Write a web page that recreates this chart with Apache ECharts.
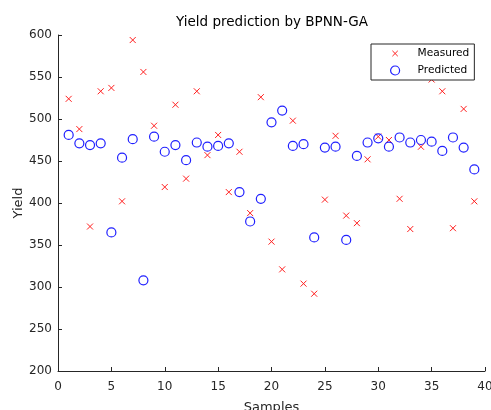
<!DOCTYPE html>
<html>
<head>
<meta charset="utf-8">
<script src="https://cdn.jsdelivr.net/npm/echarts@6/dist/echarts.min.js"></script>
<style>html,body{margin:0;padding:0;background:#fff}#c{width:491px;height:410px}</style>
</head>
<body>
<div id="c"></div>
<script>
const samples = [1,2,3,4,5,6,7,8,9,10,11,12,13,14,15,16,17,18,19,20,21,22,23,24,25,26,27,28,29,30,31,32,33,34,35,36,37,38,39];
const measured = [524,488,372,533,537,402,594,556,492,419,517,429,533,457,481,413,461,388,526,354,321,498,304,292,404,480,385,376,452,479,475,405,369,467,547,533,370,512,402];
const predicted = [481,471,469,471,365,454,476,308,479,461,469,451,472,467,468,471,413,378,405,496,510,468,470,359,466,467,356,456,472,477,467,478,472,475,473,462,478,466,440];
const xTicks = {min:0, max:40, interval:5};
const yTicks = {min:200, max:600, interval:50};

const chart = echarts.init(document.getElementById('c'), null, {renderer:'canvas'});
const axisColor = '#262626';
const font = 'DejaVu Sans, Liberation Sans, Arial, sans-serif';
const redC = '#ff2020', blueC = '#2020ff';
chart.setOption({
  animation:false,
  backgroundColor:'#fff',
  title:{text:'Yield prediction by BPNN-GA', left:272, top:15, textAlign:'center', padding:0,
    textStyle:{fontFamily:font, fontSize:13.5, fontWeight:'normal', color:'#000'}},
  grid:{left:58, right:6, top:35, bottom:39, containLabel:false, outerBoundsMode:'none'},
  legend:{
    orient:'vertical', left:371, top:44,
    backgroundColor:'#fff', borderColor:axisColor, borderWidth:1, borderRadius:0,
    padding:[4,5,4,19], itemGap:6, itemWidth:9, itemHeight:9,
    textStyle:{fontFamily:font, fontSize:10.6, color:'#000', padding:[0,0,0,13]},
    data:[
      {name:'Measured', icon:'path://M0,0M10,10M2,2L8,8M8,2L2,8',
       itemStyle:{color:'transparent', borderColor:redC, borderWidth:1}},
      {name:'Predicted', icon:'circle',
       itemStyle:{color:'transparent', borderColor:blueC, borderWidth:1.2}}
    ]
  },
  xAxis:{type:'value', min:xTicks.min, max:xTicks.max, interval:xTicks.interval,
    name:'Samples', nameLocation:'middle', nameGap:30, nameMoveOverlap:false,
    nameTextStyle:{fontFamily:font, fontSize:13, color:axisColor},
    axisLine:{show:true, lineStyle:{color:axisColor, width:1}},
    axisTick:{show:true, inside:true, length:4, lineStyle:{color:axisColor}},
    axisLabel:{fontFamily:font, fontSize:12, color:axisColor, margin:10},
    splitLine:{show:false}},
  yAxis:{type:'value', min:yTicks.min, max:yTicks.max, interval:yTicks.interval,
    name:'Yield', nameLocation:'middle', nameGap:33, nameMoveOverlap:false,
    nameTextStyle:{fontFamily:font, fontSize:13, color:axisColor},
    axisLine:{show:true, lineStyle:{color:axisColor, width:1}},
    axisTick:{show:true, inside:true, length:4, lineStyle:{color:axisColor}},
    axisLabel:{fontFamily:font, fontSize:12, color:axisColor, margin:6},
    splitLine:{show:false}},
  series:[
    {name:'Measured', type:'scatter', symbol:'path://M0,0L10,10M10,0L0,10', symbolSize:6,
     itemStyle:{color:'transparent', borderColor:redC, borderWidth:1, opacity:1},
     data:samples.map((s,i)=>[s, measured[i]])},
    {name:'Predicted', type:'scatter', symbol:'circle', symbolSize:9,
     itemStyle:{color:'transparent', borderColor:blueC, borderWidth:1.2, opacity:1},
     data:samples.map((s,i)=>[s, predicted[i]])}
  ]
});
</script>
</body>
</html>
